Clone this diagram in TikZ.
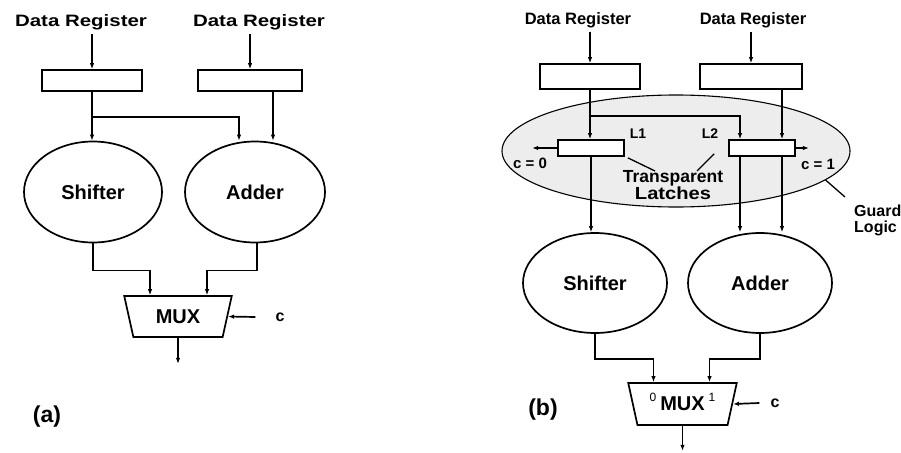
\documentclass[tikz,border=0pt]{standalone}
\usepackage{fontspec}
\setmainfont{Liberation Sans}
\usetikzlibrary{arrows.meta,shapes.geometric}
\newcommand\widelabel[1]{\scalebox{1.24}[1]{#1}}
\begin{document}
\begin{tikzpicture}[x=1pt,y=-1pt,line width=1.7pt,>={Latex[length=6pt,width=4.5pt]},
	font=\bfseries\fontsize{20}{22}\selectfont,
	dr/.style={font=\bfseries\fontsize{16.5}{18}\selectfont},
	lbl/.style={font=\bfseries\fontsize{17.5}{16}\selectfont},
	sm/.style={font=\bfseries\fontsize{14}{16}\selectfont},
	reg/.style={draw,minimum width=100pt,minimum height=#1,inner sep=0pt},
	unit/.style={draw,ellipse,minimum width=#1,minimum height=101pt,inner sep=0pt},
	mux/.style={draw,trapezium,shape border rotate=180,trapezium stretches=true,
		trapezium left angle=72,trapezium right angle=72,minimum width=108pt,minimum height=#1,inner sep=0pt},
	latch/.style={draw,fill=white,minimum width=66pt,minimum height=16pt,inner sep=0pt}]
	\useasboundingbox (0,0) rectangle (901,452);
	% (a) plain datapath
	\node[dr] (da1) at (81,22) {\widelabel{Data Register}};
	\node[dr] (da2) at (259,22) {\widelabel{Data Register}};
	\node[reg=21pt] (rega1) at (92,80.5) {};
	\node[reg=21pt,minimum width=104pt] (rega2) at (250,80.5) {};
	\node[unit=138pt] (sha) at (93,192) {Shifter};
	\node[unit=140pt] (adda) at (255,192) {Adder};
	\node[mux=41pt] (muxa) at (178,316.5) {MUX};
	\node[font=\bfseries\fontsize{16}{18}\selectfont] (ca) at (280,317) {c};
	\node[font=\bfseries\fontsize{23}{25}\selectfont] at (47,417) {(a)};
	\draw[->] (rega1.north |- da1.south) -- (rega1.north);
	\draw[->] (rega2.north |- da2.south) -- (rega2.north);
	\draw[->] (rega1.south) -- (rega1.south |- sha.north);
	\draw[->] (rega1.south) ++(0,25) -| ([xshift=-16pt]adda.north);
	\draw[->] ([xshift=23pt]rega2.south) -- ([xshift=23pt]rega2.south |- adda.north);
	\draw[->] (sha.south) -- ++(0,27) -| ([xshift=-28pt]muxa.north);
	\draw[->] ([xshift=2pt]adda.south) -- ++(0,27) -| ([xshift=29pt]muxa.north);
	\draw[->] ([xshift=-16pt]ca.west) -- (muxa.east);
	\draw[->] (muxa.south) -- ++(0,26);
	% (b) guarded datapath
	\node[draw,ellipse,fill=gray!14,line width=1.1pt,minimum width=348pt,minimum height=112pt] (guard) at (676,151) {};
	\node[dr] (db1) at (578,20) {Data Register};
	\node[dr] (db2) at (753,20) {Data Register};
	\node[reg=25pt] (regb1) at (590,76.5) {};
	\node[reg=25pt,minimum width=102pt] (regb2) at (751,76.5) {};
	\node[latch] (l1) at (591,148) {};
	\node[latch] (l2) at (762,148) {};
	\node[sm] at (638,134) {L1};
	\node[sm] at (710,134) {L2};
	\node[font=\bfseries\fontsize{15}{16}\selectfont] at (530,163) {c = 0};
	\node[font=\bfseries\fontsize{15}{16}\selectfont] at (818,164) {c = 1};
	\node[lbl,align=center] (tl) at (673,185) {Transparent\\\scalebox{1.15}[1]{Latches}};
	\node[lbl,font=\bfseries\fontsize{16}{16}\selectfont,align=left,anchor=west] (gl) at (850,220) {Guard\\Logic};
	\node[unit=144pt,minimum height=100pt] (shb) at (595,283) {Shifter};
	\node[unit=144pt,minimum height=100pt] (addb) at (760,283) {Adder};
	\node[mux=42pt,minimum width=109pt] (muxb) at (682.5,404) {\raisebox{-9pt}{MUX}};
	\foreach \t/\x in {0/653,1/712}
	\node[font=\fontsize{12}{12}\selectfont] at (\x,397) {\t};
	\node[font=\bfseries\fontsize{16}{18}\selectfont] (cb) at (775,403) {c};
	\node[font=\bfseries\fontsize{23}{25}\selectfont] at (543,410) {(b)};
	\path (655,171) coordinate (p1) (697,171) coordinate (p2) (845,197) coordinate (p3);
	\draw[line width=1.3pt] (l1.south east) ++(3,1) -- (p1) (l2.south west) ++(-14,-3) -- (p2)
		(guard.-11) -- (p3);
	\draw[->] (regb1.north |- db1.south) -- (regb1.north);
	\draw[->] (regb2.north |- db2.south) -- (regb2.north);
	\draw[->] (regb1.south) -- (regb1.south |- l1.north);
	\draw[->] (regb1.south) ++(0,26) -| ([xshift=-22pt]l2.north);
	\draw[->] ([xshift=31pt]regb2.south) -- ([xshift=20pt]l2.north);
	\draw[->] (l1.west) -- ++(-25,0);
	\draw[->] (l2.east) -- ++(13,0);
	\draw[->] (l1.south) -- (l1.south |- shb.north);
	\draw[->] ([xshift=-22pt]l2.south) -- ([xshift=-22pt]l2.south |- addb.north);
	\draw[->] ([xshift=20pt]l2.south) -- ([xshift=20pt]l2.south |- addb.north);
	\draw[->] (shb.south) -- ++(0,25) -| ([xshift=-29pt]muxb.north);
	\draw[->] (addb.south) -- ++(0,25) -| ([xshift=27pt]muxb.north);
	\draw[->] ([xshift=-7pt]cb.west) -- (muxb.east);
	\draw[->] (muxb.south) -- ++(0,25);
\end{tikzpicture}
\end{document}
